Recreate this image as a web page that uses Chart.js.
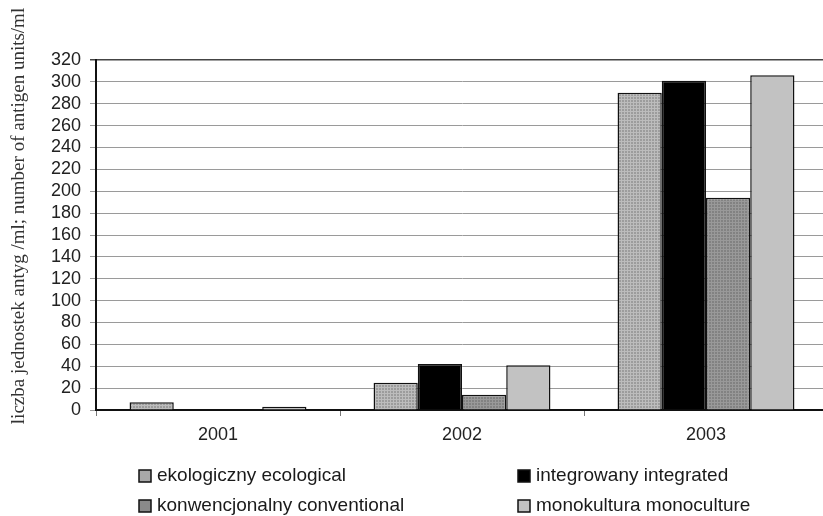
<!DOCTYPE html>
<html>
<head>
<meta charset="utf-8">
<script src="https://cdn.jsdelivr.net/npm/chart.js@4/dist/chart.umd.min.js"></script>
<style>
  html, body { margin: 0; padding: 0; background: #fff; overflow: hidden; }
  #wrap { position: relative; width: 830px; height: 516px; }
</style>
</head>
<body>
<div id="wrap"><canvas id="c" width="830" height="516"></canvas></div>
<script>
// Years on the category axis
const years = ['2001', '2002', '2003'];

// Antigen units per ml, one array per cultivation system
const ekologiczny = [7, 25, 290];
const integrowany = [0, 42, 301];
const konwencjonalny = [0, 14, 194];
const monokultura = [3, 41, 306];

const seriesNames = [
  'ekologiczny ecological',
  'integrowany integrated',
  'konwencjonalny conventional',
  'monokultura monoculture'
];

const yTicks = { min: 0, max: 320, step: 20 };
const yTitle = 'liczba jednostek antyg /ml; number of antigen units/ml';

// Small tiled fills imitating the printed hatching
function makePattern(base, line) {
  const p = document.createElement('canvas');
  p.width = 3; p.height = 3;
  const g = p.getContext('2d');
  g.fillStyle = base; g.fillRect(0, 0, 3, 3);
  g.fillStyle = line;
  g.fillRect(0, 0, 3, 1);
  g.fillRect(0, 0, 1, 3);
  return g.createPattern(p, 'repeat');
}
const fillEko = makePattern('#9c9c9c', '#bcbcbc');
const fillKonw = makePattern('#828282', '#999999');
const fills = [fillEko, '#000000', fillKonw, '#c2c2c2'];
const swatch = ['#a8a8a8', '#000000', '#8a8a8a', '#c2c2c2'];

const SANS = '"Liberation Sans", Arial, sans-serif';
const SERIF = '"Liberation Serif", "Times New Roman", serif';

// Rotated axis title drawn at a fixed spot left of the ticks
const axisTitlePlugin = {
  id: 'axisTitle',
  afterDraw(chart) {
    const c = chart.ctx;
    c.save();
    c.translate(19, 216);
    c.rotate(-Math.PI / 2);
    c.font = '19px ' + SERIF;
    c.fillStyle = '#333';
    c.textAlign = 'center';
    c.textBaseline = 'middle';
    c.fillText(yTitle, 0, 0);
    c.restore();
  }
};

// Two-column legend under the plot
const gridLegendPlugin = {
  id: 'gridLegend',
  afterDraw(chart) {
    const c = chart.ctx;
    const cols = [139, 518];
    const rows = [475, 505];
    c.save();
    c.font = '19px ' + SANS;
    c.textBaseline = 'middle';
    chart.data.datasets.forEach((ds, i) => {
      const x = cols[i % 2];
      const y = rows[Math.floor(i / 2)];
      c.fillStyle = swatch[i];
      c.fillRect(x, y - 5, 12, 12);
      c.strokeStyle = '#111';
      c.lineWidth = 1.5;
      c.strokeRect(x, y - 5, 12, 12);
      c.fillStyle = '#1a1a1a';
      c.fillText(ds.label, x + 18, y + 1);
    });
    c.restore();
  }
};

const values = [ekologiczny, integrowany, konwencjonalny, monokultura];

new Chart(document.getElementById('c'), {
  type: 'bar',
  data: {
    labels: years,
    datasets: values.map((v, i) => ({
      label: seriesNames[i],
      data: v,
      backgroundColor: fills[i],
      borderColor: '#111',
      borderWidth: 1.5,
      borderSkipped: 'bottom',
      categoryPercentage: 0.725,
      barPercentage: 1.0
    }))
  },
  options: {
    responsive: false,
    animation: false,
    layout: { padding: { left: 0, top: 60, right: 2, bottom: 66 } },
    plugins: {
      legend: { display: false },
      tooltip: { enabled: false }
    },
    scales: {
      x: {
        afterFit(s) { s.height = 40; },
        grid: {
          offset: true,
          drawOnChartArea: false,
          drawTicks: true,
          tickLength: 6,
          color: '#777'
        },
        border: { color: '#111', width: 2 },
        ticks: {
          font: { family: SANS, size: 18 },
          color: '#222',
          padding: 8
        }
      },
      y: {
        min: yTicks.min,
        max: yTicks.max,
        afterFit(s) { s.width = 96; },
        ticks: {
          stepSize: yTicks.step,
          autoSkip: false,
          font: { family: SANS, size: 18 },
          color: '#222',
          padding: 9
        },
        grid: {
          color: (ctx) => (ctx.tick && ctx.tick.value === yTicks.max ? '#444' : '#9a9a9a'),
          lineWidth: (ctx) => (ctx.tick && ctx.tick.value === yTicks.max ? 1.5 : 1),
          tickLength: 6
        },
        border: { color: '#111', width: 2 },
        title: { display: false }
      }
    }
  },
  plugins: [axisTitlePlugin, gridLegendPlugin]
});
</script>
</body>
</html>
